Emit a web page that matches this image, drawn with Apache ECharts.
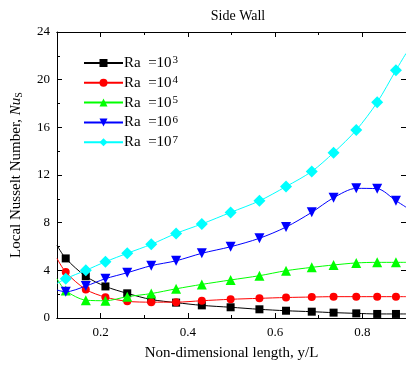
<!DOCTYPE html>
<html>
<head>
<meta charset="utf-8">
<script src="https://cdn.jsdelivr.net/npm/echarts@6/dist/echarts.min.js"></script>
<style>html,body{margin:0;padding:0;background:#fff;}#c{width:406px;height:366px;}</style>
</head>
<body>
<div id="c"></div>
<script>
const xVals = [0.1, 0.12, 0.166, 0.211, 0.261, 0.316, 0.373, 0.432, 0.498, 0.564, 0.625, 0.684, 0.734, 0.786, 0.834, 0.877, 0.9];
const ra3 = [6.1, 5.0, 3.5, 2.65, 2.07, 1.55, 1.29, 1.06, 0.9, 0.73, 0.61, 0.53, 0.45, 0.39, 0.34, 0.34, 0.34];
const ra4 = [5.0, 3.85, 2.4, 1.75, 1.4, 1.33, 1.33, 1.45, 1.57, 1.65, 1.72, 1.76, 1.79, 1.79, 1.79, 1.79, 1.79];
const ra5 = [3.3, 2.3, 1.5, 1.45, 1.79, 2.05, 2.45, 2.82, 3.19, 3.55, 3.97, 4.25, 4.45, 4.62, 4.67, 4.67, 4.67];
const ra6 = [2.35, 2.2, 2.68, 3.3, 3.8, 4.39, 4.8, 5.43, 5.98, 6.69, 7.63, 8.87, 10.09, 10.88, 10.85, 9.84, 9.3];
const ra7 = [2.9, 3.3, 4.0, 4.72, 5.43, 6.18, 7.1, 7.89, 8.86, 9.83, 11.03, 12.3, 13.87, 15.77, 18.1, 20.8, 22.2];
const seriesNames = ['3', '4', '5', '6', '7'];
const xMajorTicks = [0.2, 0.4, 0.6, 0.8];
const xMinorTicks = [0.3, 0.5, 0.7];

const FONT = 'Liberation Serif';
const colors = ['#000000', '#ff0000', '#00ff00', '#0000ff', '#00ffff'];
const symbols = ['rect', 'circle', 'triangle', 'triangle', 'diamond'];
const sizes = [8, 8, 10, 10, 12];
const rotates = [0, 0, 0, 180, 0];
const allY = [ra3, ra4, ra5, ra6, ra7];

function mkData(ys) {
  return xVals.map((x, i) => {
    const d = { value: [x, ys[i]] };
    if (i === 0 || i === xVals.length - 1) d.symbol = 'none';
    return d;
  });
}

const series = allY.map((ys, k) => ({
  name: 'Ra  =10{s|' + seriesNames[k] + '}',
  type: 'line',
  data: mkData(ys),
  smooth: 0.3,
  symbol: symbols[k],
  symbolSize: sizes[k],
  symbolRotate: rotates[k],
  showAllSymbol: true,
  lineStyle: { color: colors[k], width: 1 },
  itemStyle: { color: colors[k] },
  xAxisIndex: 0, yAxisIndex: 0,
  z: 2 + k
}));

const baseX = {
  type: 'value', min: 0.1, max: 0.9,
  axisLine: { show: true, onZero: false, lineStyle: { color: '#000', width: 1 } },
  splitLine: { show: false }
};

const chart = echarts.init(document.getElementById('c'));
chart.setOption({
  backgroundColor: '#fff',
  animation: false,
  title: {
    text: 'Side Wall', left: 233, top: 4, textAlign: 'center',
    textStyle: { fontFamily: FONT, fontSize: 14, fontWeight: 'normal', color: '#000' }
  },
  legend: {
    left: 83, top: 55, orient: 'vertical', padding: 0,
    itemWidth: 39, itemHeight: 10, itemGap: 3.8,
    data: series.map(s => s.name),
    textStyle: {
      fontFamily: FONT, fontSize: 15, color: '#000', lineHeight: 16, padding: [0, 0, 0, -4],
      rich: { s: { fontFamily: FONT, fontSize: 11, lineHeight: 9, verticalAlign: 'top', padding: [0, 0, 0, 1] } }
    }
  },
  grid: { left: 57, top: 32, width: 353, height: 286 },
  xAxis: [
    Object.assign({}, baseX, {
      position: 'bottom',
      name: 'Non-dimensional length, y/L', nameLocation: 'middle', nameGap: 28,
      nameTextStyle: { fontFamily: FONT, fontSize: 15, color: '#000' },
      axisTick: { show: true, inside: true, length: 5, customValues: xMajorTicks, lineStyle: { color: '#000' } },
      axisLabel: { show: true, margin: 8, customValues: xMajorTicks, fontFamily: FONT, fontSize: 13, color: '#000',
        formatter: v => v.toFixed(1) }
    }),
    Object.assign({}, baseX, {
      position: 'bottom',
      axisTick: { show: true, inside: true, length: 3, customValues: xMinorTicks, lineStyle: { color: '#000' } },
      axisLabel: { show: false }
    }),
    Object.assign({}, baseX, {
      position: 'top',
      axisTick: { show: true, inside: true, length: 5, customValues: xMajorTicks, lineStyle: { color: '#000' } },
      axisLabel: { show: false }
    }),
    Object.assign({}, baseX, {
      position: 'top',
      axisTick: { show: true, inside: true, length: 3, customValues: xMinorTicks, lineStyle: { color: '#000' } },
      axisLabel: { show: false }
    })
  ],
  yAxis: [
    {
      type: 'value', min: 0, max: 24, interval: 4, position: 'left',
      name: 'Local Nusselt Number, {i|Nu}{b|S}', nameLocation: 'middle', nameGap: 33, nameRotate: 90,
      nameTextStyle: { fontFamily: FONT, fontSize: 15, color: '#000',
        rich: { i: { fontFamily: FONT, fontSize: 15, fontStyle: 'italic' }, b: { fontFamily: FONT, fontSize: 10, verticalAlign: 'bottom', padding: [6, 0, 0, 0] } } },
      axisLine: { show: true, onZero: false, lineStyle: { color: '#000', width: 1 } },
      axisTick: { show: true, inside: true, length: 5, lineStyle: { color: '#000' } },
      minorTick: { show: true, splitNumber: 2, length: 3, lineStyle: { color: '#000' } },
      axisLabel: { margin: 7, fontFamily: FONT, fontSize: 13, color: '#000' },
      splitLine: { show: false }
    },
    {
      type: 'value', min: 0, max: 24, interval: 4, position: 'right',
      axisLine: { show: true, onZero: false, lineStyle: { color: '#000', width: 1 } },
      axisTick: { show: true, inside: true, length: 5 },
      axisLabel: { show: false },
      splitLine: { show: false }
    }
  ],
  series: series
});
</script>
</body>
</html>
